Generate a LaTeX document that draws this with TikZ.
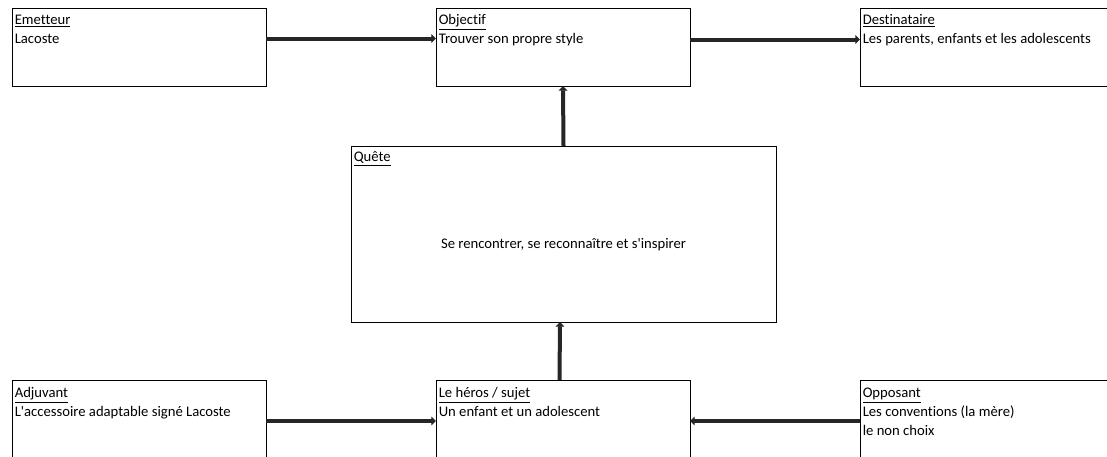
\documentclass[tikz,border=0pt]{standalone}
\usepackage{fontspec}
\setmainfont{Carlito}[Ligatures=NoCommon]
\usetikzlibrary{arrows.meta}
\newcommand\entete[1]{\rule{0pt}{9pt}\underline{#1}}
\tikzset{
	box/.style = {draw, line width=0.7pt, anchor=north west, inner sep=0pt, outer sep=0pt,
		minimum width=190.5pt, minimum height=58.5pt},
	txt/.style = {anchor=north west, inner sep=0pt, align=left, font=\fontsize{11}{14.25}\selectfont},
	link/.style = {line width=3pt, draw=black!85, -{Triangle[length=3.5pt,width=6.5pt]}}
}
\begin{document}
\begin{tikzpicture}[x=0.75pt,y=-0.75pt]
	\path [use as bounding box, clip] (0,0) rectangle (1107,457);
	% les cases
	\node [box] (emet) at (12,8) {};
	\node [box] (obj) at (436,8) {};
	\node [box] (dest) at (860,8) {};
	\node [box, minimum width=318.75pt, minimum height=132pt] (quete) at (351,146) {};
	\node [box] (adj) at (12,380) {};
	\node [box] (heros) at (436,380) {};
	\node [box] (opp) at (860,380) {};
	% les textes
	\node [txt] (emet-t) at ([shift={(2.5,4.5)}]emet.north west) {\entete{Emetteur}\\Lacoste};
	\node [txt] (obj-t) at ([shift={(2.5,4.5)}]obj.north west) {\entete{Objectif}\\Trouver son propre style};
	\node [txt] (dest-t) at ([shift={(2.5,4.5)}]dest.north west) {\entete{Destinataire}\\Les parents, enfants et les adolescents};
	\node [txt] (quete-t) at ([shift={(2.5,3)}]quete.north west) {\entete{Quête}};
	\node [txt, anchor=base] (quete-c) at ([shift={(0,102)}]quete.north) {Se rencontrer, se reconnaître et s\textquotesingle inspirer};
	\node [txt] (adj-t) at ([shift={(2.5,5.5)}]adj.north west) {\entete{Adjuvant}\\L\textquotesingle accessoire adaptable signé Lacoste};
	\node [txt] (heros-t) at ([shift={(2.5,5.5)}]heros.north west) {\entete{Le héros / sujet}\\Un enfant et un adolescent};
	\node [txt] (opp-t) at ([shift={(2.5,5.5)}]opp.north west) {\entete{Opposant}\\Les conventions (la mère)\\le non choix};
	% les fleches
	\draw [link] ([shift={(0,30.5)}]emet.north east) -- ([shift={(0,30.5)}]obj.north west);
	\draw [link] ([shift={(0,31.5)}]obj.north east) -- ([shift={(0,31.5)}]dest.north west);
	\draw [link] (quete.north) -- (obj.south);
	\draw [link] ([shift={(-3.5,0)}]heros.north) -- ([shift={(-3.5,0)}]quete.south);
	\draw [link] ([shift={(0,41)}]adj.north east) -- ([shift={(0,41)}]heros.north west);
	\draw [link] ([shift={(0,41)}]opp.north west) -- ([shift={(0,41)}]heros.north east);
\end{tikzpicture}
\end{document}
